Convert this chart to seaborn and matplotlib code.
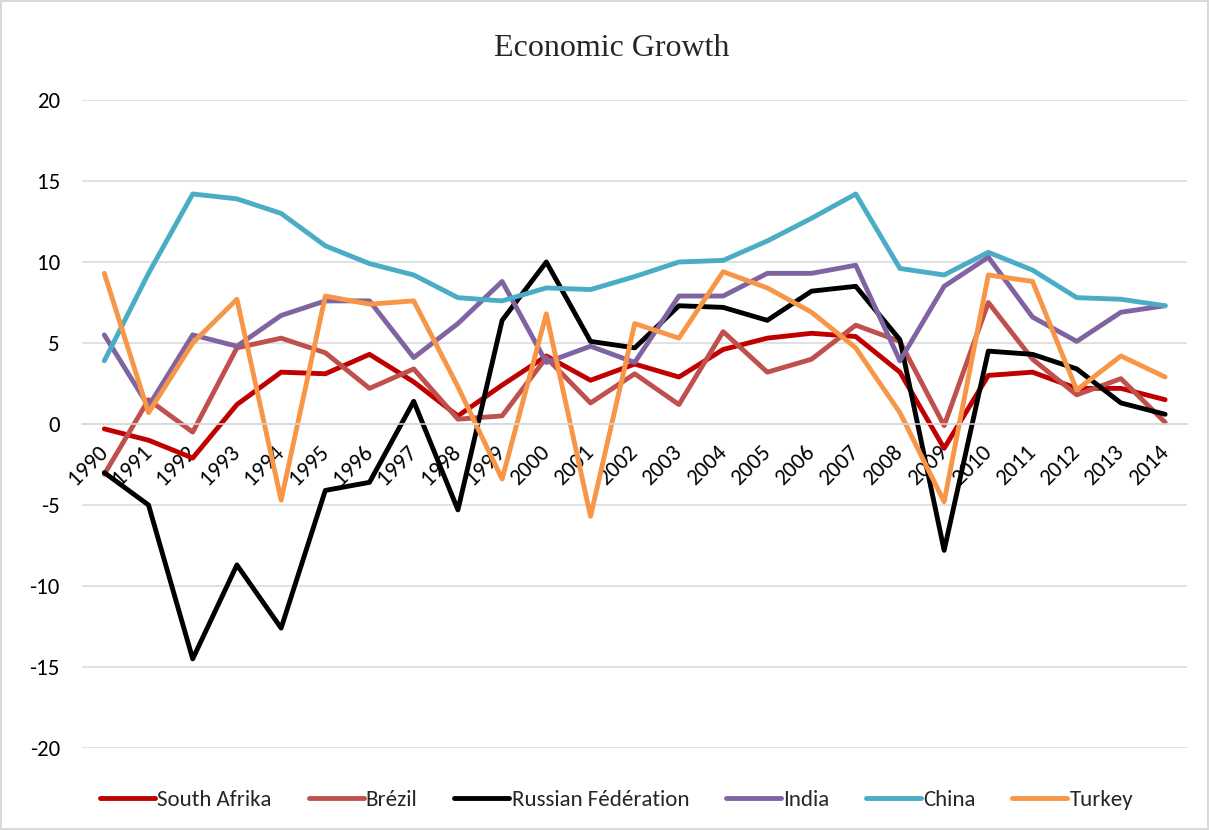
import pandas as pd
import seaborn as sns
import matplotlib.pyplot as plt

years = list(range(1990, 2015))

south_afrika = [-0.3, -1.0, -2.1, 1.2, 3.2, 3.1, 4.3, 2.6, 0.5, 2.4, 4.2, 2.7, 3.7, 2.9, 4.6,
                5.3, 5.6, 5.4, 3.2, -1.5, 3.0, 3.2, 2.2, 2.2, 1.5]
brezil = [-3.1, 1.5, -0.5, 4.7, 5.3, 4.4, 2.2, 3.4, 0.3, 0.5, 4.1, 1.3, 3.1, 1.2, 5.7,
          3.2, 4.0, 6.1, 5.1, -0.1, 7.5, 4.0, 1.8, 2.8, 0.1]
russia = [-3.0, -5.0, -14.5, -8.7, -12.6, -4.1, -3.6, 1.4, -5.3, 6.4, 10.0, 5.1, 4.7, 7.3, 7.2,
          6.4, 8.2, 8.5, 5.2, -7.8, 4.5, 4.3, 3.4, 1.3, 0.6]
india = [5.5, 1.1, 5.5, 4.8, 6.7, 7.6, 7.6, 4.1, 6.2, 8.8, 3.8, 4.8, 3.8, 7.9, 7.9,
         9.3, 9.3, 9.8, 3.9, 8.5, 10.3, 6.6, 5.1, 6.9, 7.3]
china = [3.9, 9.3, 14.2, 13.9, 13.0, 11.0, 9.9, 9.2, 7.8, 7.6, 8.4, 8.3, 9.1, 10.0, 10.1,
         11.3, 12.7, 14.2, 9.6, 9.2, 10.6, 9.5, 7.8, 7.7, 7.3]
turkey = [9.3, 0.7, 5.0, 7.7, -4.7, 7.9, 7.4, 7.6, 2.3, -3.4, 6.8, -5.7, 6.2, 5.3, 9.4,
          8.4, 6.9, 4.7, 0.7, -4.8, 9.2, 8.8, 2.1, 4.2, 2.9]

countries = ["South Afrika", "Brézil", "Russian Fédération", "India", "China", "Turkey"]
colors = ["#C00000", "#C0504D", "#000000", "#8064A2", "#4BACC6", "#F79646"]
series = [south_afrika, brezil, russia, india, china, turkey]

rows = []
for name, vals in zip(countries, series):
    for y, v in zip(years, vals):
        rows.append({"year": y, "growth": v, "country": name})
df = pd.DataFrame(rows)

sns.set_style("white")
plt.rcParams["font.family"] = ["Carlito", "Lato", "DejaVu Sans"]
plt.rcParams["axes.unicode_minus"] = False

fig = plt.figure(figsize=(12.09, 8.3), dpi=100)
fig.patch.set_edgecolor("#D9D9D9")
fig.patch.set_linewidth(1.5)
ax = fig.add_axes([0.068, 0.0988, 0.914, 0.7807])

sns.lineplot(
    data=df,
    x="year",
    y="growth",
    hue="country",
    hue_order=countries,
    palette=colors,
    linewidth=3.5,
    ax=ax
)

ax.set_xlim(1989.5, 2014.5)
ax.set_ylim(-20, 20)
ax.set_yticks(range(-20, 21, 5))
ax.yaxis.grid(True, color="#D9D9D9", linewidth=1.1)
ax.set_axisbelow(True)
for s in ["top", "right", "left"]:
    ax.spines[s].set_visible(False)
ax.spines["bottom"].set_position(("data", 0))
ax.spines["bottom"].set_color("#D9D9D9")
ax.spines["bottom"].set_linewidth(1.1)

ax.set_xticks(years)
ax.set_xticklabels([str(y) for y in years], rotation=45, ha="right", va="center",
                   rotation_mode="anchor")
ax.tick_params(axis="x", length=0, pad=18, labelsize=16.5, colors="#000000")
ax.tick_params(axis="y", length=0, pad=16, labelsize=16.5, colors="#000000")
ax.set_xlabel("")
ax.set_ylabel("")

handles, labels = ax.get_legend_handles_labels()
ax.get_legend().remove()
fig.legend(handles, labels, loc="center", bbox_to_anchor=(0.51, 0.036), ncol=6,
           frameon=False, fontsize=16.5, handlelength=2.4, handletextpad=0.1,
           columnspacing=1.6)

fig.text(0.506, 0.942, "Economic Growth", ha="center", va="center",
         family="Liberation Serif", fontsize=23)

fig.savefig("out.png", dpi=100)
